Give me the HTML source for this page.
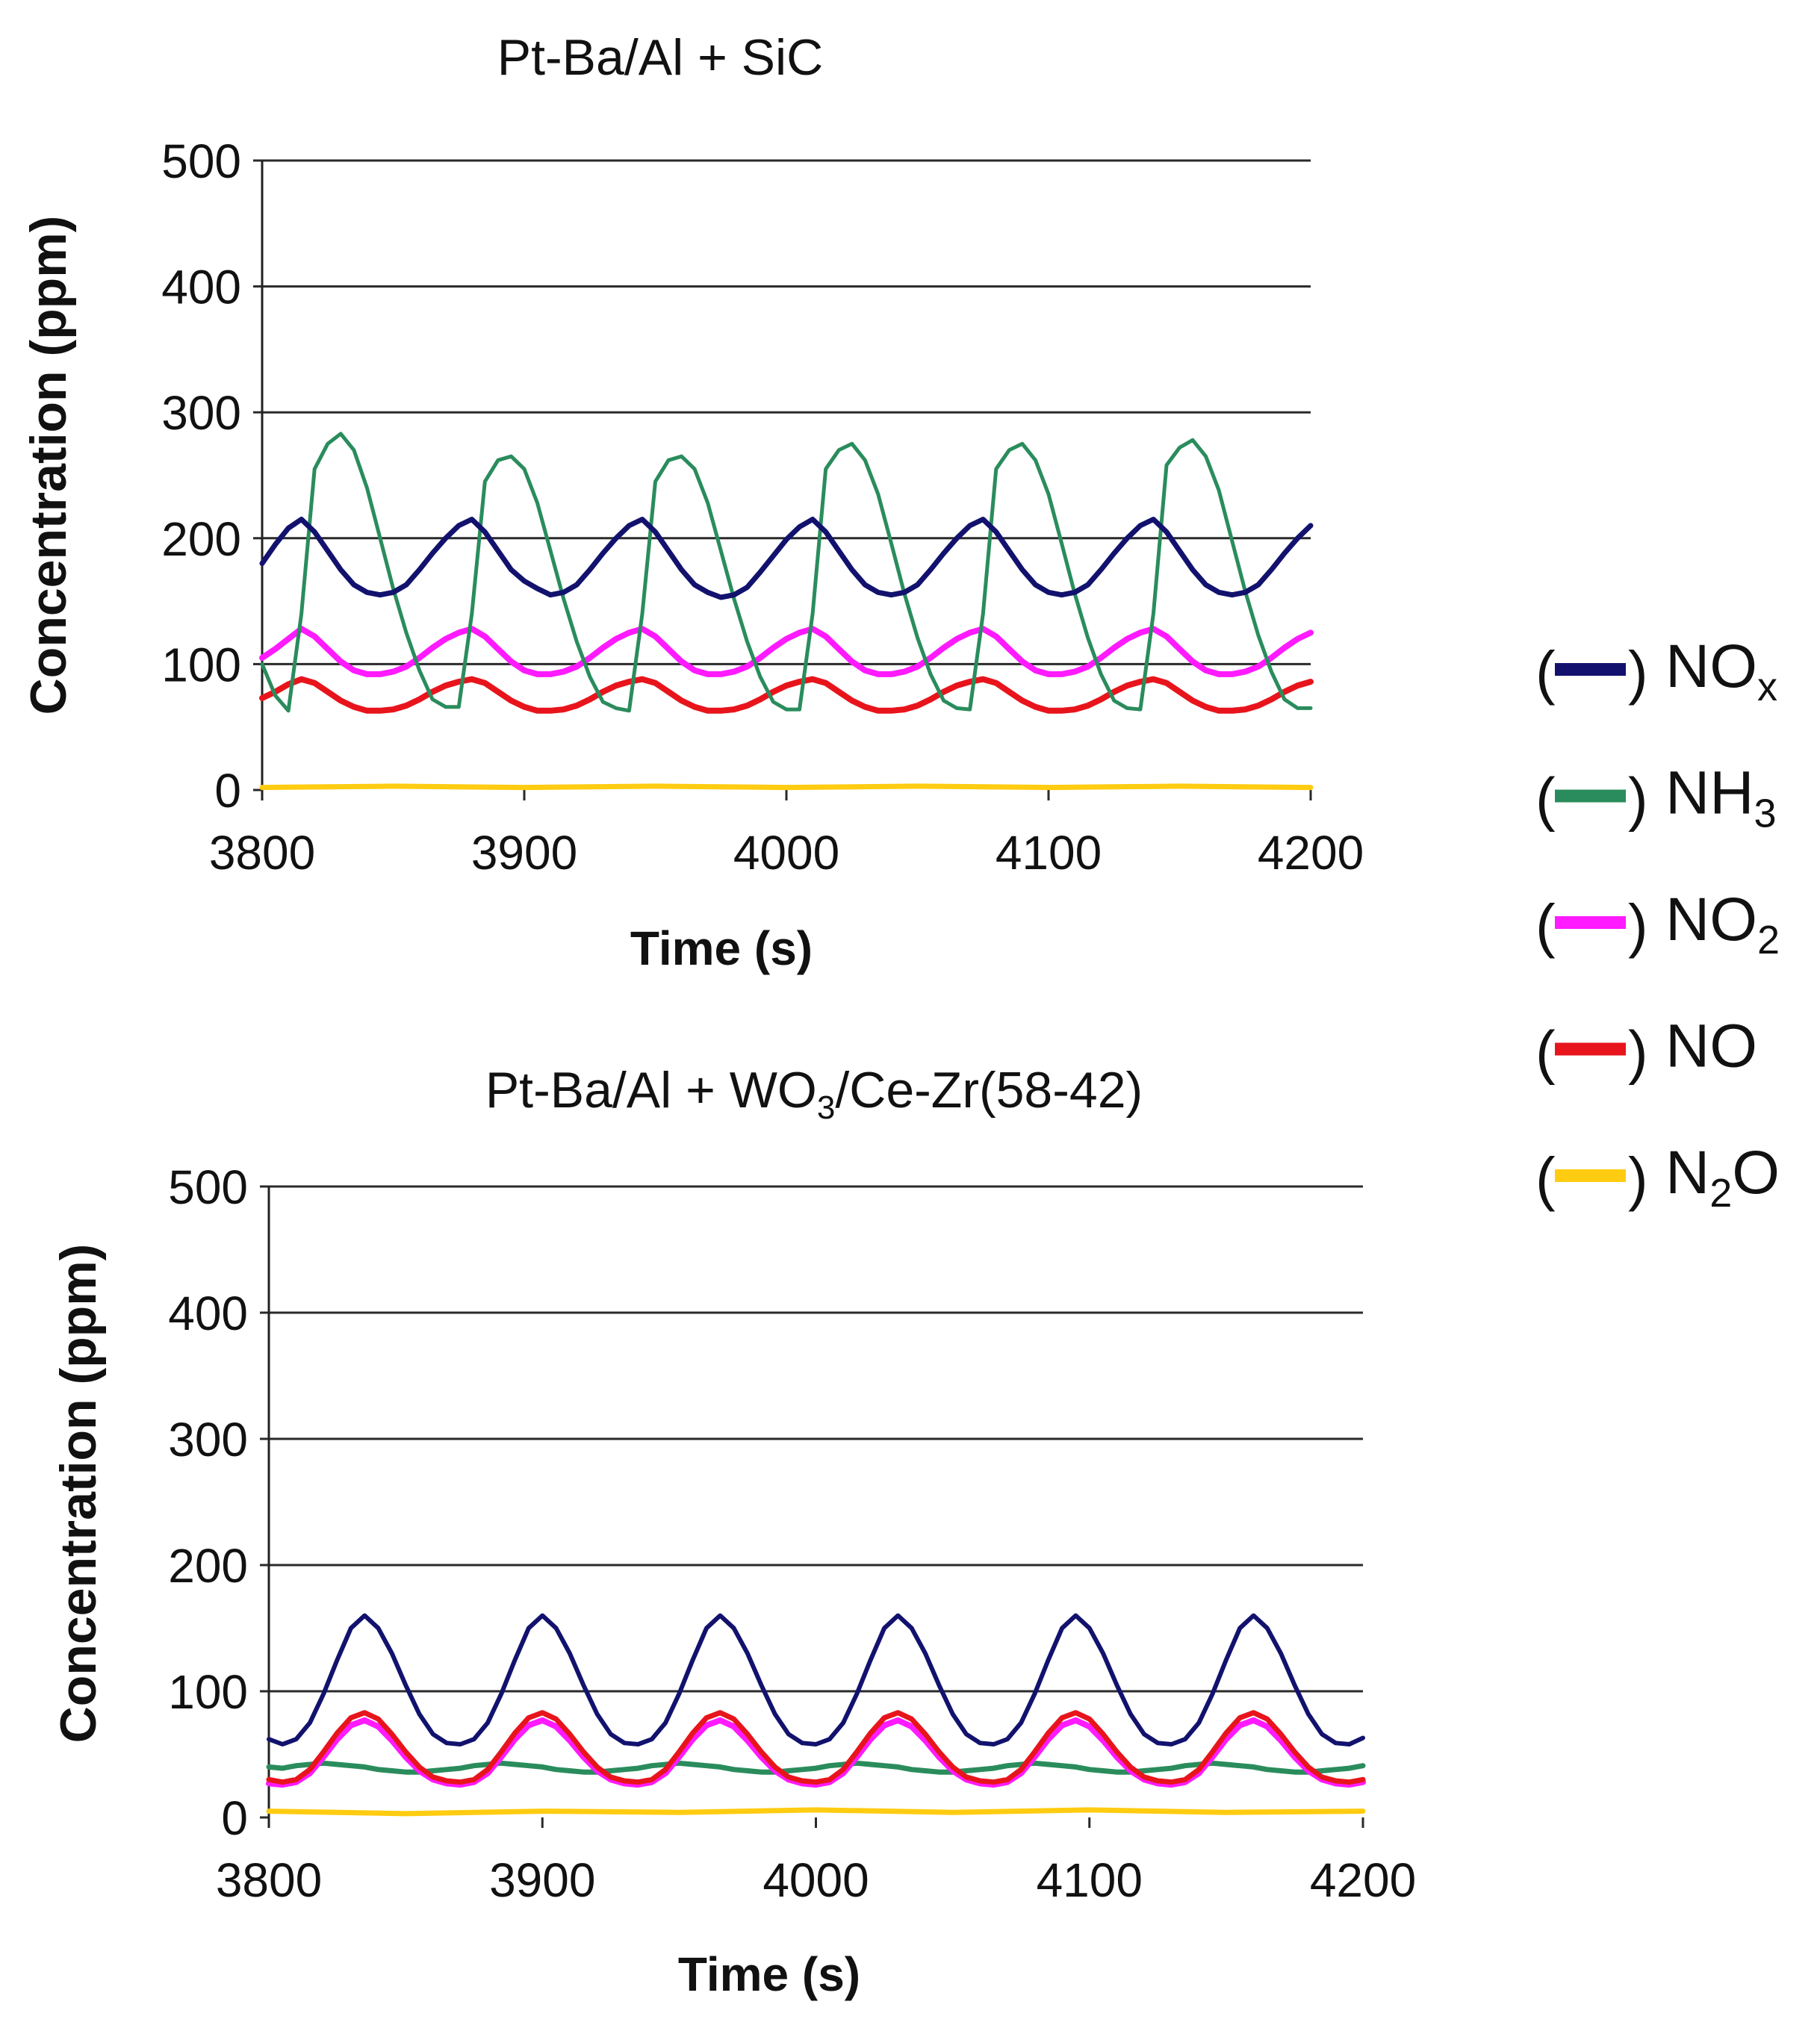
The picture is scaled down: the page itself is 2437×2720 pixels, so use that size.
<!DOCTYPE html>
<html><head><meta charset="utf-8"><style>
html,body{margin:0;padding:0;background:#fff;}
svg{display:block;font-family:"Liberation Sans",Arial,sans-serif;}
</style></head><body>
<svg id="root" width="2437" height="2720" viewBox="0 0 2437 2720" xmlns="http://www.w3.org/2000/svg">
<g id="top"></g>
<g id="bottom"></g>
<g id="legend"></g>
</svg>
<script>
const times = [3800,3805,3810,3815,3820,3825,3830,3835,3840,3845,3850,3855,3860,3865,3870,3875,3880,3885,3890,3895,3900,3905,3910,3915,3920,3925,3930,3935,3940,3945,3950,3955,3960,3965,3970,3975,3980,3985,3990,3995,4000,4005,4010,4015,4020,4025,4030,4035,4040,4045,4050,4055,4060,4065,4070,4075,4080,4085,4090,4095,4100,4105,4110,4115,4120,4125,4130,4135,4140,4145,4150,4155,4160,4165,4170,4175,4180,4185,4190,4195,4200];
const n2oTimes = [3800,3850,3900,3950,4000,4050,4100,4150,4200];

const topNOx = [180,195,208,
215,205,190,175,163,157,155,157,163,175,188,200,210,
215,205,190,175,166,160,155,157,163,175,188,200,210,
215,205,190,175,163,157,153,155,161,173,186,199,209,
215,205,190,175,163,157,155,157,163,175,188,200,210,
215,205,190,175,163,157,155,157,163,175,188,200,210,
215,205,190,175,163,157,155,157,163,175,188,200,210];
const topNO2 = [105,112,120,
128,122,112,102,95,92,92,94,98,105,113,120,125,
128,122,112,102,95,92,92,94,98,105,113,120,125,
128,122,112,102,95,92,92,94,98,105,113,120,125,
128,122,112,102,95,92,92,94,98,105,113,120,125,
128,122,112,102,95,92,92,94,98,105,113,120,125,
128,122,112,102,95,92,92,94,98,105,113,120,125];
const topNO = [73,78,84,
88,85,78,71,66,63,63,64,67,72,78,83,86,
88,85,78,71,66,63,63,64,67,72,78,83,86,
88,85,78,71,66,63,63,64,67,72,78,83,86,
88,85,78,71,66,63,63,64,67,72,78,83,86,
88,85,78,71,66,63,63,64,67,72,78,83,86,
88,85,78,71,66,63,63,64,67,72,78,83,86];
const topNH3 = [100,75,
63,140,255,275,283,270,240,200,160,125,95,72,66,
66,140,245,262,265,255,228,190,152,118,90,70,65,
63,140,245,262,265,255,228,190,152,118,90,70,64,
64,140,255,270,275,262,235,196,156,121,92,71,65,
64,140,255,270,275,262,235,196,156,121,92,71,65,
64,140,258,272,278,265,238,198,158,123,94,72,65,
65];
const topN2O = [2,3,2,3,2,3,2,3,2];

const botNOx = [62,
58,62,75,98,125,150,160,150,130,105,82,66,59,
58,62,75,98,125,150,160,150,130,105,82,66,59,
58,62,75,98,125,150,160,150,130,105,82,66,59,
58,62,75,98,125,150,160,150,130,105,82,66,59,
58,62,75,98,125,150,160,150,130,105,82,66,59,
58,62,75,98,125,150,160,150,130,105,82,66,59,
58,63];
const botNO = [30,
28,30,38,52,67,79,83,78,66,52,40,32,29,
28,30,38,52,67,79,83,78,66,52,40,32,29,
28,30,38,52,67,79,83,78,66,52,40,32,29,
28,30,38,52,67,79,83,78,66,52,40,32,29,
28,30,38,52,67,79,83,78,66,52,40,32,29,
28,30,38,52,67,79,83,78,66,52,40,32,29,
28,30];
const botNO2 = [27,
26,28,35,48,62,73,77,72,61,48,37,30,27,
26,28,35,48,62,73,77,72,61,48,37,30,27,
26,28,35,48,62,73,77,72,61,48,37,30,27,
26,28,35,48,62,73,77,72,61,48,37,30,27,
26,28,35,48,62,73,77,72,61,48,37,30,27,
26,28,35,48,62,73,77,72,61,48,37,30,27,
26,28];
const botNH3 = [40,
39,41,42,43,42,41,40,38,37,36,36,37,38,
39,41,42,43,42,41,40,38,37,36,36,37,38,
39,41,42,43,42,41,40,38,37,36,36,37,38,
39,41,42,43,42,41,40,38,37,36,36,37,38,
39,41,42,43,42,41,40,38,37,36,36,37,38,
39,41,42,43,42,41,40,38,37,36,36,37,38,
39,41];
const botN2O = [5,3,5,4,6,4,6,4,5];

const yTicks = [0,100,200,300,400,500];
const xTicks = [3800,3900,4000,4100,4200];

const NS = "http://www.w3.org/2000/svg";
function mk(parent, tag, attrs, text){
  const e = document.createElementNS(NS, tag);
  for (const k in attrs) e.setAttribute(k, attrs[k]);
  if (text !== undefined) e.textContent = text;
  parent.appendChild(e);
  return e;
}

function drawChart(g, cfg){
  const xs = t => cfg.x0 + (t - 3800) / 400 * (cfg.x1 - cfg.x0);
  const ys = v => cfg.y0 - v / 500 * (cfg.y0 - cfg.y500);
  const title = mk(g, 'text', {x: cfg.titleX, y: cfg.titleY, 'font-size': 68, 'text-anchor': 'middle', fill: '#111'});
  
  
  title.innerHTML = cfg.titleHTML;
  yTicks.forEach(v => {
    if (v > 0) {
      const gl = mk(g, 'line', {x1: cfg.x0, x2: cfg.x1, y1: ys(v), y2: ys(v), stroke: '#2a2a2a', 'stroke-width': 3});
      
      
    }
    const tk = mk(g, 'line', {x1: cfg.x0 - 12, x2: cfg.x0, y1: ys(v), y2: ys(v), stroke: '#2a2a2a', 'stroke-width': 3});
    
    
    const lb = mk(g, 'text', {x: cfg.x0 - 28, y: ys(v) + 23, 'font-size': 64, 'text-anchor': 'end', fill: '#111'}, String(v));
    
    
  });
  xTicks.forEach(t => {
    const tk = mk(g, 'line', {x1: xs(t), x2: xs(t), y1: cfg.y0, y2: cfg.y0 + 14, stroke: '#2a2a2a', 'stroke-width': 3});
    
    
    const lb = mk(g, 'text', {x: xs(t), y: cfg.y0 + 106, 'font-size': 64, 'text-anchor': 'middle', fill: '#111'}, String(t));
    
    
  });
  const ax = mk(g, 'line', {x1: cfg.x0, x2: cfg.x0, y1: cfg.y500, y2: cfg.y0 + 14, stroke: '#222', 'stroke-width': 3});
  
  
  const xt = mk(g, 'text', {x: cfg.xTitleX, y: cfg.xTitleY, 'font-size': 64, 'font-weight': 'bold', 'text-anchor': 'middle', fill: '#111'}, 'Time (s)');
  
  
  const yt = mk(g, 'text', {x: 0, y: 0, 'font-size': 68, 'font-weight': 'bold', 'text-anchor': 'middle', fill: '#111', transform: `translate(${cfg.yTitleX},${cfg.yTitleY}) rotate(-90)`}, 'Concentration (ppm)');
  
  
  cfg.series.forEach(s => {
    const pts = s.data.map((v, i) => xs(s.t[i]).toFixed(1) + ',' + ys(v).toFixed(1)).join(' ');
    const pl = mk(g, 'polyline', {points: pts, fill: 'none', stroke: s.color, 'stroke-width': s.w, 'stroke-linejoin': 'round', 'stroke-linecap': 'round'});
    
    
  });
}

const C = {nox:'#12126e', nh3:'#2a8c5c', no2:'#ff1aff', no:'#e8141c', n2o:'#ffcc11'};

drawChart(document.getElementById('top'), {
  x0: 351, x1: 1755, y0: 1058, y500: 215,
  titleX: 884, titleY: 100, titleHTML: 'Pt-Ba/Al + SiC',
  xTitleX: 966, xTitleY: 1292, yTitleX: 88, yTitleY: 623,
  series: [
    {name:'n2o', t:n2oTimes, data:topN2O, color:C.n2o, w:7},
    {name:'no', t:times, data:topNO, color:C.no, w:8},
    {name:'no2', t:times, data:topNO2, color:C.no2, w:8},
    {name:'nh3', t:times, data:topNH3, color:C.nh3, w:5},
    {name:'nox', t:times, data:topNOx, color:C.nox, w:7}
  ]
});
drawChart(document.getElementById('bottom'), {
  x0: 360, x1: 1825, y0: 2434, y500: 1589,
  titleX: 1090, titleY: 1483, titleHTML: 'Pt-Ba/Al + WO<tspan font-size="44" dy="15">3</tspan><tspan dy="-15">/Ce-Zr(58-42)</tspan>',
  xTitleX: 1030, xTitleY: 2666, yTitleX: 128, yTitleY: 2000,
  series: [
    {name:'n2o', t:n2oTimes, data:botN2O, color:C.n2o, w:7},
    {name:'nh3', t:times, data:botNH3, color:C.nh3, w:7},
    {name:'no2', t:times, data:botNO2, color:C.no2, w:8},
    {name:'no', t:times, data:botNO, color:C.no, w:7},
    {name:'nox', t:times, data:botNOx, color:C.nox, w:6}
  ]
});

const legendItems = [
  {key:'nox', main:'NO', sub:'x'},
  {key:'nh3', main:'NH', sub:'3'},
  {key:'no2', main:'NO', sub:'2'},
  {key:'no', main:'NO', sub:''},
  {key:'n2o', main:'N', sub:'2', tail:'O'}
];
const lg = document.getElementById('legend');
legendItems.forEach((it, i) => {
  const by = 920 + i * 169.5;
  const g = mk(lg, 'g', {});
  
  
  mk(g, 'text', {x: 2056, y: by + 8, 'font-size': 80, fill: '#111'}, '(');
  mk(g, 'rect', {x: 2082, y: by - 32, width: 95, height: 17, fill: C[it.key]});
  mk(g, 'text', {x: 2180, y: by + 8, 'font-size': 80, fill: '#111'}, ')');
  const t = mk(g, 'text', {x: 2230, y: by, 'font-size': 82, fill: '#111'});
  let html = it.main;
  if (it.sub) html += '<tspan font-size="54" dy="18">' + it.sub + '</tspan>';
  if (it.tail) html += '<tspan dy="-18">' + it.tail + '</tspan>';
  t.innerHTML = html;
});
</script>
</body></html>
